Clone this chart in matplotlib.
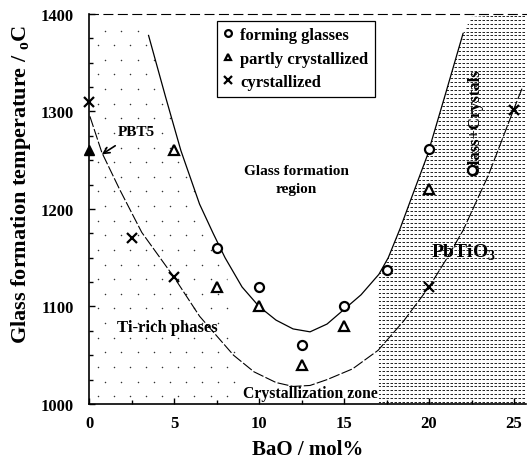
import numpy as np
import matplotlib
matplotlib.use("Agg")
import matplotlib.pyplot as plt
from matplotlib.patches import Polygon

plt.rcParams['font.family'] = ['Liberation Serif', 'DejaVu Serif']
plt.rcParams['font.weight'] = 'bold'
plt.rcParams['mathtext.fontset'] = 'custom'
plt.rcParams['mathtext.rm'] = 'Liberation Serif:bold'

# datos
forming_x = [7.5, 10, 12.5, 15, 17.5, 20, 22.5]
forming_y = [1160, 1120, 1060, 1100, 1137, 1262, 1240]
partly_x = [5, 7.5, 10, 12.5, 15, 20]
partly_y = [1260, 1120, 1100, 1040, 1080, 1220]
cryst_x = [0, 2.5, 5, 20, 25]
cryst_y = [1310, 1170, 1130, 1120, 1302]
pbt5_x = [0]
pbt5_y = [1260]

# limite de formacion de vidrio (curva superior)
upper_x = [3.5, 4.5, 5.4, 6.5, 7.3, 8.0, 9.0, 10.0, 11.0, 12.0, 13.0, 14.0,
           15.0, 16.0, 17.05, 17.6, 18.3, 19.0, 19.9, 21.0, 22.0]
upper_y = [1378, 1315, 1260, 1205, 1175, 1150, 1120, 1100, 1086, 1077, 1074, 1082,
           1097, 1112, 1133, 1150, 1180, 1213, 1255, 1320, 1380]
# zona de cristalizacion (curva inferior)
lower_x = [0.05, 0.75, 1.8, 3.1, 5.0, 6.5, 8.5, 9.7, 11.0, 12.0, 13.0, 14.0,
           15.5, 17.0, 18.5, 20.0, 21.0, 22.0, 23.5, 25.0, 25.5]
lower_y = [1295, 1258, 1220, 1176, 1130, 1090, 1050, 1033, 1022, 1018, 1019, 1025,
           1036, 1055, 1085, 1120, 1148, 1178, 1235, 1303, 1325]

fig = plt.figure(figsize=(5.27, 4.60), dpi=100)
ax = fig.add_axes([0.169, 0.1196, 0.829, 0.8478])
ax.set_xlim(0, 25.7)
ax.set_ylim(1000, 1400)

# region PbTiO3 sombreada con guiones
idx = [i for i, x in enumerate(upper_x) if x >= 17.05]
verts = [(17.05, 1000)] + [(upper_x[i], upper_y[i]) for i in idx] + \
        [(22.5, 1397), (25.7, 1400), (25.7, 1000)]
shade = Polygon(verts, closed=True, facecolor='none', edgecolor='none')
ax.add_patch(shade)
filas = np.arange(1002, 1400, 4)
hl = ax.hlines(filas, 16.5, 26, colors='k', linewidth=0.6, linestyles=(0, (3.0, 1.8)))
hl.set_clip_path(shade)

# region rica en Ti (puntos sueltos)
idx2 = [i for i, x in enumerate(upper_x) if x <= 8.0]
verts2 = [(0, 1000), (0, 1395), (3.3, 1395)] + [(upper_x[i], upper_y[i]) for i in idx2] + [(9.0, 1000)]
dots = Polygon(verts2, closed=True, facecolor='none', edgecolor='none')
ax.add_patch(dots)
gx, gy = np.meshgrid(np.arange(0.5, 9.5, 0.95), np.arange(1008, 1400, 15))
gx = gx + (np.arange(gx.shape[0])[:, None] % 2) * 0.45
pts = ax.scatter(gx.ravel(), gy.ravel(), s=1.2, color='#333333', linewidths=0)
pts.set_clip_path(dots)

ax.plot(upper_x, upper_y, color='k', lw=0.9)
ax.plot(lower_x, lower_y, color='k', lw=0.8, linestyle=(0, (10, 2)))

ax.plot(forming_x, forming_y, 'o', mfc='white', mec='k', mew=1.6, ms=6.5,
        linestyle='none', label='forming glasses', zorder=5)
ax.plot(partly_x, partly_y, '^', mfc='white', mec='k', mew=1.6, ms=6.5,
        linestyle='none', label='partly crystallized', zorder=5)
ax.plot(cryst_x, cryst_y, 'x', color='k', mew=1.6, ms=7,
        linestyle='none', label='cyrstallized', zorder=5, clip_on=False)
ax.plot(pbt5_x, pbt5_y, '^', color='k', ms=7, linestyle='none', zorder=6, clip_on=False)

leg = ax.legend(loc='upper left', bbox_to_anchor=(0.292, 0.983), borderaxespad=0,
                frameon=True, fancybox=False, edgecolor='k', framealpha=1,
                handlelength=0.6, handletextpad=0.4, borderpad=0.4, labelspacing=0.45,
                markerscale=0.75,
                prop={'family': 'Liberation Serif', 'weight': 'bold', 'size': 12})
leg.get_frame().set_linewidth(0.9)

ax.annotate('PBT5', xy=(0.75, 1256), xytext=(2.8, 1279), fontsize=11, fontweight='bold',
            ha='center', va='center',
            arrowprops=dict(arrowstyle='->', color='k', lw=1.2, shrinkA=6, shrinkB=0))
ax.text(12.2, 1230, 'Glass formation\nregion', ha='center', va='center', fontsize=11,
        fontweight='bold', linespacing=1.5)
ax.text(4.6, 1079, 'Ti-rich phases', ha='center', va='center', fontsize=12, fontweight='bold')
ax.text(13.0, 1003, 'Crystallization zone', ha='center', va='bottom', fontsize=11.3,
        fontweight='bold')
ax.text(22.0, 1156, r'PbTiO$_3$', ha='center', va='center', fontsize=14, fontweight='bold')
ax.text(22.7, 1290, 'Glass+Crystals', ha='center', va='center', fontsize=12,
        fontweight='bold', rotation=90)

ax.set_xticks([0, 5, 10, 15, 20, 25])
ax.set_xticks(np.arange(2.5, 25, 5), minor=True)
ax.set_yticks([1000, 1100, 1200, 1300, 1400])
ax.set_yticks(np.arange(1025, 1400, 25), minor=True)
ax.tick_params(which='both', direction='in', width=1)
ax.tick_params(axis='x', which='major', length=4, labelsize=12, pad=8)
ax.tick_params(axis='y', which='major', length=4, labelsize=12, pad=11)
ax.tick_params(which='minor', length=3)
for lab in ax.get_xticklabels() + ax.get_yticklabels():
    lab.set_fontweight('bold')
    lab.set_fontsize(12)

ax.spines['right'].set_visible(False)
ax.spines['top'].set_linestyle((0, (8, 5)))
ax.spines['top'].set_linewidth(0.8)
ax.spines['left'].set_linewidth(1.2)
ax.spines['bottom'].set_linewidth(1.2)

ax.set_xlabel('BaO / mol%', fontsize=15, fontweight='bold', labelpad=6)
ax.set_ylabel(r'Glass formation temperature / $_{\mathrm{o}}$C', fontsize=16,
              fontweight='bold')
ax.yaxis.set_label_coords(-0.128, 0.565)

fig.savefig('out.png', dpi=100)
